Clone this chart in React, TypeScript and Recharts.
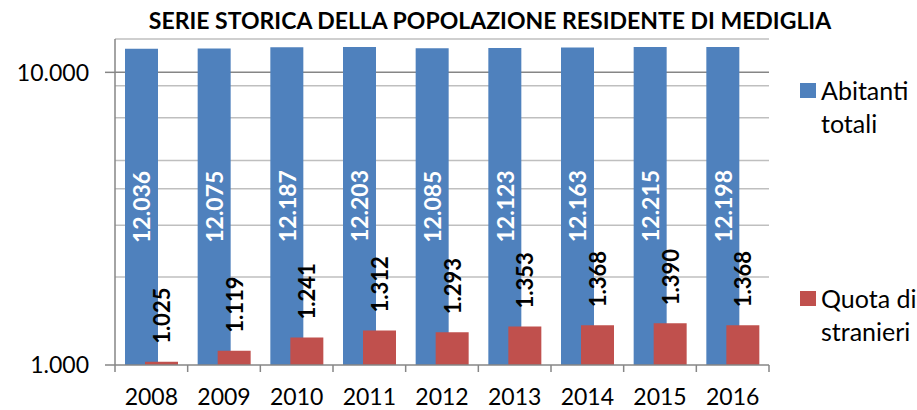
import { BarChart, Bar, XAxis, YAxis, CartesianGrid, Legend, LabelList } from "recharts";

const years = ["2008", "2009", "2010", "2011", "2012", "2013", "2014", "2015", "2016"];
const abitantiTotali = [12036, 12075, 12187, 12203, 12085, 12123, 12163, 12215, 12198];
const quotaStranieri = [1025, 1119, 1241, 1312, 1293, 1353, 1368, 1390, 1368];
const yTicks = [1000, 10000];
const minorGrid = [2000, 3000, 4000, 5000, 6000, 7000, 8000, 9000, 13000];

const data = years.map((year, i) => ({
  year,
  totali: abitantiTotali[i],
  stranieri: quotaStranieri[i],
}));

const FONT = "Lato, 'Open Sans', sans-serif";
const BLUE = "#4F81BD";
const RED = "#C0504D";
const AXIS = "#868686";
const GRID = "#BFBFBF";
const PLOT_W = 654;
const BAND = PLOT_W / years.length;

// 12036 -> "12.036"
const fmt = (v: number) => String(v).replace(/\B(?=(\d{3})+(?!\d))/g, ".");

const XTick = (props: any) => {
  const { x, y, payload, index } = props;
  const last = index === years.length - 1;
  return (
    <g>
      <line x1={x - BAND / 2} y1={y} x2={x - BAND / 2} y2={y + 7} stroke={AXIS} strokeWidth={1.5} />
      {last && <line x1={x + BAND / 2} y1={y} x2={x + BAND / 2} y2={y + 7} stroke={AXIS} strokeWidth={1.5} />}
      <text x={x} y={y + 40} textAnchor="middle" fontSize={23} fontFamily={FONT} fill="#000">
        {payload.value}
      </text>
    </g>
  );
};

const BlueLabel = (props: any) => {
  const { x, y, width, height, value } = props;
  const cx = x + width / 2;
  const cy = y + height / 2;
  return (
    <text
      x={cx}
      y={cy}
      transform={`rotate(-90 ${cx} ${cy})`}
      textAnchor="middle"
      dominantBaseline="central"
      fontSize={23}
      fontWeight="bold"
      fontFamily={FONT}
      fill="#fff"
    >
      {fmt(value)}
    </text>
  );
};

const RedLabel = (props: any) => {
  const { x, y, width, value } = props;
  const cx = x + width / 2;
  const cy = y - 18;
  return (
    <text
      x={cx}
      y={cy}
      transform={`rotate(-90 ${cx} ${cy})`}
      textAnchor="start"
      dominantBaseline="central"
      fontSize={22}
      fontWeight="bold"
      fontFamily={FONT}
      fill="#000"
    >
      {fmt(value)}
    </text>
  );
};

const LegendBox = (props: any) => {
  const items = props.payload || [];
  const lines: Record<string, string[]> = {
    totali: ["Abitanti", "totali"],
    stranieri: ["Quota di", "stranieri"],
  };
  const tops: Record<string, number> = { totali: 74, stranieri: 282 };
  return (
    <div style={{ position: "relative", width: 120, height: 410 }}>
      {items.map((it: any) => (
        <div
          key={it.dataKey}
          style={{ position: "absolute", left: 0, top: tops[it.dataKey], display: "flex", alignItems: "flex-start" }}
        >
          <div style={{ width: 16, height: 15, background: it.color, marginTop: 9, marginRight: 5 }} />
          <div style={{ fontFamily: FONT, fontSize: 25, lineHeight: "33px", color: "#000" }}>
            {lines[it.dataKey][0]}
            <br />
            {lines[it.dataKey][1]}
          </div>
        </div>
      ))}
    </div>
  );
};

export default function App() {
  return (
    <div style={{ position: "absolute", left: 0, top: 0, width: 917, height: 410, background: "#fff" }}>
      <div
        style={{
          position: "absolute",
          left: 0,
          top: 6,
          width: 980,
          textAlign: "center",
          fontFamily: FONT,
          fontWeight: "bold",
          fontSize: 23,
          color: "#000",
          zIndex: 2,
        }}
      >
        SERIE STORICA DELLA POPOLAZIONE RESIDENTE DI MEDIGLIA
      </div>
      <BarChart
        width={917}
        height={410}
        data={data}
        margin={{ top: 39, right: 28, bottom: 0, left: 0 }}
        barSize={33}
        barGap={-13}
        barCategoryGap={9}
        baseValue="dataMin"
      >
        <CartesianGrid vertical={false} horizontalValues={minorGrid} stroke={GRID} strokeWidth={1.5} />
        <CartesianGrid vertical={false} horizontalValues={[10000]} stroke={AXIS} strokeWidth={1.5} />
        <XAxis
          dataKey="year"
          tickLine={false}
          tickSize={0}
          tickMargin={0}
          height={45}
          axisLine={{ stroke: AXIS, strokeWidth: 1.5 }}
          tick={<XTick />}
          interval={0}
        />
        <YAxis
          scale="log"
          domain={[1000, 13000]}
          allowDataOverflow
          ticks={yTicks}
          width={115}
          tickSize={10}
          tickMargin={16}
          tickFormatter={fmt}
          tick={{ fontSize: 23, fontFamily: FONT, fill: "#000" }}
          tickLine={{ stroke: AXIS, strokeWidth: 1.5 }}
          axisLine={{ stroke: AXIS, strokeWidth: 1.5 }}
        />
        <Legend
          layout="vertical"
          align="right"
          verticalAlign="top"
          wrapperStyle={{ position: "absolute", left: 800, top: 0, width: 120 }}
          content={<LegendBox />}
        />
        <Bar dataKey="totali" name="Abitanti totali" fill={BLUE} isAnimationActive={false}>
          <LabelList dataKey="totali" content={<BlueLabel />} />
        </Bar>
        <Bar dataKey="stranieri" name="Quota di stranieri" fill={RED} isAnimationActive={false}>
          <LabelList dataKey="stranieri" content={<RedLabel />} />
        </Bar>
      </BarChart>
    </div>
  );
}
